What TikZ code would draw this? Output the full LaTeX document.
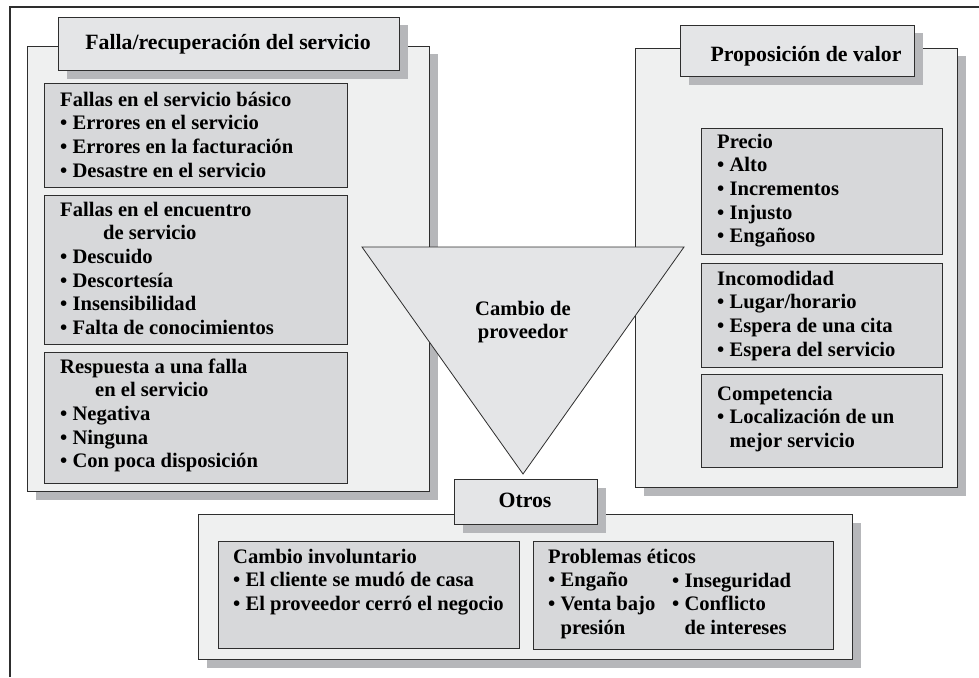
\documentclass[tikz,border=0pt]{standalone}
\usepackage{fontspec}
\setmainfont{Liberation Serif}
\usetikzlibrary{shadows}
\definecolor{panelfill}{HTML}{EFF0F0}
\definecolor{boxfill}{HTML}{D7D8DA}
\definecolor{titlefill}{HTML}{E4E5E7}
\definecolor{shadowgray}{HTML}{B6B7BA}
\definecolor{edgegray}{HTML}{2E2E2E}
\newcommand\bodyfont{\fontsize{20.6}{23.7}\selectfont\bfseries}
\newcommand\headfont{\fontsize{21.8}{24}\selectfont\bfseries}
\newcommand\blk[1]{\parbox[t]{400pt}{\raggedright #1}}
\newcommand\ind{\hphantom{•\ }}
\begin{document}
\begin{tikzpicture}[x=1pt,y=-1pt,
 shad/.style={drop shadow={shadow xshift=8pt,shadow yshift=-8pt,fill=shadowgray,opacity=1}},
 panel/.style={draw=edgegray,line width=1pt,fill=panelfill,shad,anchor=north west,inner sep=0pt},
 titlebox/.style={draw=edgegray,line width=1pt,fill=titlefill,shad,anchor=north west,inner sep=0pt},
 itembox/.style={draw=edgegray,line width=1pt,fill=boxfill,anchor=north west,inner sep=0pt},
 txt/.style={anchor=base west,inner sep=0pt,font=\bodyfont},
 ctxt/.style={anchor=base,inner sep=0pt,font=\headfont}]
\useasboundingbox[fill=white] (0,0) rectangle (979,677);
% outer frame
\coordinate (fbl) at (10,677);
\coordinate (ftl) at (10,7);
\coordinate (ftr) at (979,7);
\draw[line width=2.5pt,edgegray] (fbl) -- (ftl) -- (ftr);

% left panel
\node[panel,minimum width=402pt,minimum height=445pt] (lp) at (27,46) {};
\node[titlebox,minimum width=341pt,minimum height=53pt] (lt) at (58,17) {};
\node[ctxt] (ltt) at (228,50) {Falla/recuperación del servicio};
\node[itembox,minimum width=303pt,minimum height=104pt] (lb1) at (44,83) {};
\node[itembox,minimum width=303pt,minimum height=149pt] (lb2) at (44,195) {};
\node[itembox,minimum width=303pt,minimum height=131pt] (lb3) at (44,352) {};
\node[txt] (lb1t) at (60,106) {\blk{Fallas en el servicio básico\\• Errores en el servicio\\• Errores en la facturación\\• Desastre en el servicio}};
\node[txt] (lb2t) at (60,216) {\blk{Fallas en el encuentro\\\hspace*{43pt}de servicio\\• Descuido\\• Descortesía\\• Insensibilidad\\• Falta de conocimientos}};
\node[txt] (lb3t) at (60,373) {\blk{Respuesta a una falla\\\hspace*{35pt}en el servicio\\• Negativa\\• Ninguna\\• Con poca disposición}};

% right panel
\node[panel,minimum width=322pt,minimum height=439pt] (rp) at (635,48) {};
\node[titlebox,minimum width=234pt,minimum height=51pt] (rt) at (680,25) {};
\node[ctxt] (rtt) at (806,62) {Proposición de valor};
\node[itembox,minimum width=241pt,minimum height=126pt] (rb1) at (701,128) {};
\node[itembox,minimum width=241pt,minimum height=104pt] (rb2) at (701,263) {};
\node[itembox,minimum width=241pt,minimum height=93pt] (rb3) at (701,374) {};
\node[txt] (rb1t) at (717,148) {\blk{Precio\\• Alto\\• Incrementos\\• Injusto\\• Engañoso}};
\node[txt] (rb2t) at (717,285) {\blk{Incomodidad\\• Lugar/horario\\• Espera de una cita\\• Espera del servicio}};
\node[txt] (rb3t) at (717,400) {\blk{Competencia\\• Localización de un\\\ind mejor servicio}};

% triangle
\coordinate (tl) at (362,247);
\coordinate (tr) at (684,247);
\coordinate (tb) at (523,474);
\draw[draw=edgegray,line width=0.8pt,fill=titlefill,line join=miter] (tl) -- (tr) -- (tb) -- cycle;
\node[anchor=base,inner sep=0pt,font=\bodyfont] (tt) at (523,315) {\parbox[t]{200pt}{\centering Cambio de\\proveedor}};

% bottom panel
\node[panel,minimum width=654pt,minimum height=145pt] (bp) at (198,514) {};
\node[titlebox,minimum width=143pt,minimum height=45pt] (bt) at (454,479) {};
\node[ctxt] (btt) at (525,507) {Otros};
\node[itembox,minimum width=301pt,minimum height=107pt] (bb1) at (218,541) {};
\node[itembox,minimum width=300pt,minimum height=108pt] (bb2) at (533,541) {};
\node[txt] (bb1t) at (233,563) {\blk{Cambio involuntario\\• El cliente se mudó de casa\\• El proveedor cerró el negocio}};
\node[txt] (bb2t) at (548,563) {\blk{Problemas éticos\\• Engaño\\• Venta bajo\\\ind presión}};
\node[txt] (bb3t) at (672,587) {\blk{• Inseguridad\\• Conflicto\\\ind de intereses}};
\end{tikzpicture}
\end{document}
